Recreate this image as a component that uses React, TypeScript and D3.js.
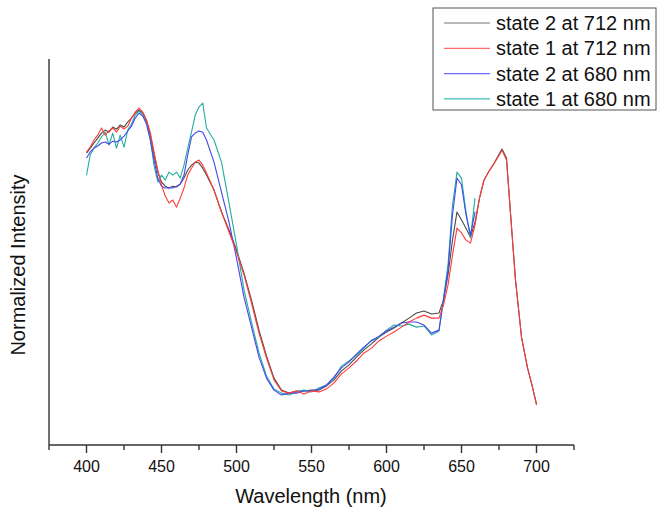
import React from "react";
import * as d3 from "d3";

// wavelength grid (nm); the 680 nm series stop at 659 nm
const wavelengths = [
  400, 402.5, 405, 407.5, 410, 412.5, 415, 417.5, 420, 422.5, 425, 427.5, 430,
  432.5, 435, 437.5, 440, 442.5, 445, 447.5, 450, 452.5, 455, 457.5, 460, 462.5,
  465, 467.5, 470, 472.5, 475, 477.5, 480, 485, 490, 495, 500, 505, 510, 515,
  520, 525, 530, 535, 540, 545, 550, 555, 560, 565, 570, 575, 580, 585, 590,
  595, 600, 605, 610, 615, 620, 625, 630, 635, 638, 641, 644, 647, 650, 653,
  656, 659, 662, 665, 668, 671, 674, 677, 680, 683, 686, 690, 694, 697, 700,
];

const state2at712 = [
  97.3, 99.0, 100.7, 102.3, 104.0, 105.0, 104.3, 106.0, 105.3, 106.7, 106.0,
  107.7, 109.0, 110.7, 111.7, 110.7, 108.3, 103.3, 96.7, 91.0, 87.7, 86.3, 85.7,
  86.3, 86.0, 87.0, 89.0, 91.7, 93.3, 94.3, 94.0, 92.3, 90.0, 85.0, 77.7, 71.7,
  65.0, 57.3, 48.3, 38.3, 29.7, 22.3, 18.3, 17.3, 18.0, 18.0, 18.3, 18.3, 19.7,
  21.7, 24.7, 26.7, 29.3, 31.7, 33.7, 36.0, 37.7, 39.0, 40.7, 42.3, 44.0, 44.7,
  43.7, 44.0, 48.3, 56.7, 68.3, 77.7, 75.0, 72.3, 69.3, 74.3, 82.3, 88.3, 91.0,
  93.3, 96.0, 98.7, 95.7, 75.0, 55.0, 36.0, 25.7, 20.0, 13.7,
];

const state1at712 = [
  97.7, 99.3, 101.7, 103.3, 105.7, 103.3, 104.7, 105.7, 104.3, 106.3, 105.3,
  106.3, 109.0, 111.0, 112.3, 111.0, 108.3, 104.3, 97.7, 91.7, 86.7, 83.0, 80.7,
  81.7, 79.3, 82.3, 85.7, 90.0, 92.3, 94.3, 95.0, 93.3, 90.7, 85.0, 77.7, 71.0,
  64.3, 56.7, 47.3, 37.3, 29.0, 21.7, 18.0, 17.3, 18.0, 17.0, 18.0, 17.7, 18.7,
  20.7, 23.7, 25.7, 28.0, 30.7, 32.3, 34.7, 36.3, 37.7, 39.3, 41.0, 42.3, 43.3,
  42.3, 42.3, 46.7, 53.3, 63.3, 72.3, 70.7, 68.3, 67.3, 73.3, 82.3, 88.3, 91.0,
  93.3, 95.7, 98.3, 95.0, 75.0, 55.0, 36.0, 25.7, 20.0, 13.3,
];

const state2at680 = [
  95.7, 97.7, 99.0, 99.7, 100.7, 101.0, 100.3, 101.3, 101.0, 101.7, 103.0,
  104.7, 106.3, 109.0, 110.7, 109.7, 107.0, 101.7, 95.0, 89.0, 86.3, 85.7, 85.7,
  85.7, 86.3, 87.0, 90.0, 96.7, 102.7, 104.0, 104.7, 104.3, 101.7, 94.3, 84.3,
  74.3, 62.3, 49.3, 39.3, 29.3, 22.3, 18.3, 16.7, 17.3, 17.3, 18.0, 18.0, 18.7,
  20.0, 22.7, 25.7, 27.7, 30.3, 32.7, 34.7, 36.3, 38.0, 39.3, 40.7, 41.0, 41.0,
  40.0, 37.3, 38.3, 48.3, 58.3, 76.7, 89.0, 86.7, 76.7, 70.0, 77.7,
];

const state1at680 = [
  90.0, 96.7, 99.0, 100.7, 102.7, 104.3, 100.0, 104.0, 99.0, 103.3, 99.3, 105.0,
  107.0, 110.0, 111.3, 110.3, 107.7, 102.3, 93.3, 87.7, 90.0, 88.3, 91.0, 90.0,
  91.0, 89.0, 93.3, 99.0, 104.3, 110.0, 112.7, 114.0, 105.7, 101.7, 94.3, 80.7,
  66.7, 51.7, 41.0, 30.7, 23.0, 18.7, 17.3, 16.7, 17.7, 18.3, 17.7, 19.0, 20.0,
  22.3, 26.3, 28.0, 30.0, 32.3, 35.0, 36.0, 38.3, 40.0, 39.7, 40.3, 39.3, 39.7,
  36.7, 38.0, 49.0, 60.0, 80.0, 91.0, 89.0, 77.7, 69.0, 82.3,
];

const seriesNames = [
  "state 2 at 712 nm",
  "state 1 at 712 nm",
  "state 2 at 680 nm",
  "state 1 at 680 nm",
];
const lineColors = ["#4a4a4a", "#ff3a3a", "#4646f0", "#22ad9f"];
const legendColors = ["#777777", "#ff6b6b", "#6b6bff", "#3dbdb2"];
const seriesValues = [state2at712, state1at712, state2at680, state1at680];
// drawing order: later on top
const drawOrder = [0, 3, 2, 1];

const majorTicks = [400, 450, 500, 550, 600, 650, 700];
const minorTicks = [375, 425, 475, 525, 575, 625, 675, 725];

const font = "'Liberation Sans', Arial, sans-serif";

export default function App() {
  const width = 662;
  const height = 512;

  const x = d3.scaleLinear().domain([375, 725]).range([49, 574]);
  const y = d3.scaleLinear().domain([0, 128.7]).range([445, 59]);

  const line = d3
    .line<[number, number]>()
    .x((d) => x(d[0]))
    .y((d) => y(d[1]));

  const paths = seriesValues.map((vals) =>
    line(vals.map((v, i) => [wavelengths[i], v] as [number, number]))
  );

  const [y0] = y.range();

  return (
    <svg
      width={width}
      height={height}
      style={{ position: "absolute", left: 0, top: 0, background: "#fff" }}
      fontFamily={font}
    >
      {/* plot lines */}
      <g fill="none" strokeWidth={1.1} strokeLinejoin="round">
        {drawOrder.map((k) => (
          <path key={k} d={paths[k] || ""} stroke={lineColors[k]} />
        ))}
      </g>

      {/* axes */}
      <g stroke="#333" strokeWidth={1.4}>
        <line x1={x.range()[0]} x2={x.range()[0]} y1={y.range()[1]} y2={y0} />
        <line x1={x.range()[0]} x2={x.range()[1]} y1={y0} y2={y0} />
        {majorTicks.map((t) => (
          <line key={"M" + t} x1={x(t)} x2={x(t)} y1={y0} y2={y0 + 8} />
        ))}
        {minorTicks.map((t) => (
          <line key={"m" + t} x1={x(t)} x2={x(t)} y1={y0} y2={y0 + 5} />
        ))}
      </g>
      <g fontSize={16} fill="#111" textAnchor="middle">
        {majorTicks.map((t) => (
          <text key={t} x={x(t)} y={y0 + 27}>
            {t}
          </text>
        ))}
      </g>
      <text x={311} y={503} fontSize={20} fill="#111" textAnchor="middle">
        Wavelength (nm)
      </text>
      <text
        transform="translate(25,265) rotate(-90)"
        fontSize={20}
        fill="#111"
        textAnchor="middle"
      >
        Normalized Intensity
      </text>

      {/* legend */}
      <rect x={433} y={8} width={223} height={102} fill="#fff" stroke="#555" strokeWidth={1} />
      {seriesNames.map((name, i) => {
        const cy = 23 + i * 25.3;
        return (
          <g key={name}>
            <line x1={444} x2={490} y1={cy} y2={cy} stroke={legendColors[i]} strokeWidth={1.2} />
            <text x={496} y={cy + 7} fontSize={20} fill="#111">
              {name}
            </text>
          </g>
        );
      })}
    </svg>
  );
}
